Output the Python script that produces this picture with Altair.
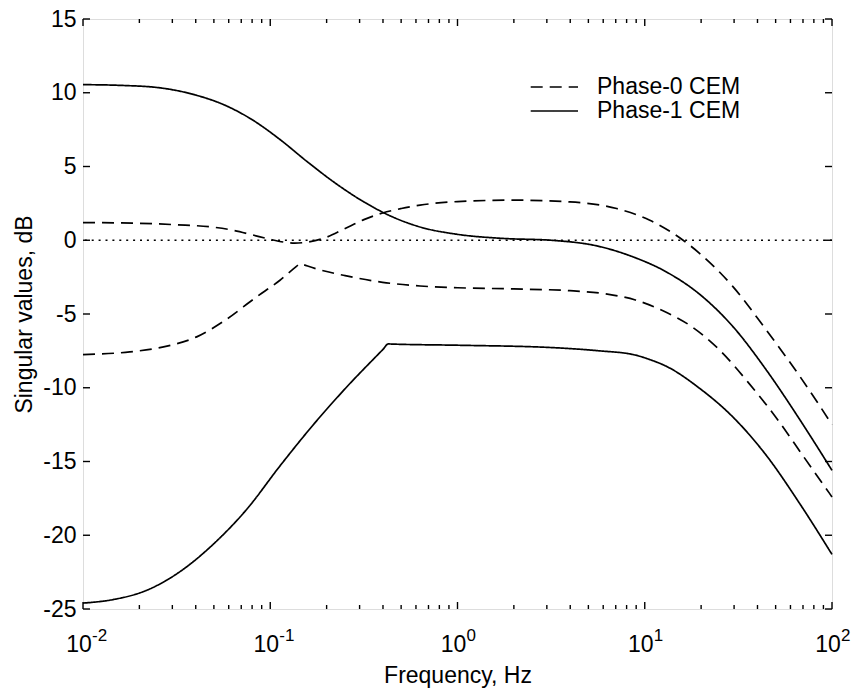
import altair as alt
import pandas as pd

FONT = "Liberation Sans"
W, H = 749, 590

# ---- data (frequency in Hz, singular value in dB) ----
p0_upper_f = [0.01, 0.01995, 0.03162, 0.05012, 0.0631, 0.07943, 0.1, 0.1175, 0.1349, 0.1585, 0.1995,
              0.2512, 0.3162, 0.3981, 0.5012, 0.631, 1.0, 1.995, 3.981, 7.079, 10.64, 16.03, 19.68,
              29.65, 44.67, 67.61, 100]
p0_upper_db = [1.2, 1.15, 1.05, 0.88, 0.68, 0.38, 0.06, -0.12, -0.2, -0.12, 0.2,
               0.8, 1.4, 1.85, 2.15, 2.38, 2.62, 2.72, 2.6, 2.15, 1.36, 0.0, -0.9,
               -3.16, -6.1, -9.26, -12.5]

p0_lower_f = [0.01, 0.01778, 0.02692, 0.04046, 0.05623, 0.08453, 0.1127, 0.138, 0.1442, 0.150, 0.1778,
              0.2512, 0.3981, 0.631, 1.0, 1.995, 3.981, 6.31, 8.913, 12.59, 17.78, 25.12, 35.48,
              50.12, 70.79, 100]
p0_lower_db = [-7.75, -7.57, -7.23, -6.55, -5.5, -3.84, -2.71, -1.77, -1.58, -1.65, -1.95,
               -2.4, -2.85, -3.1, -3.22, -3.3, -3.42, -3.65, -4.05, -4.8, -5.85, -7.45, -9.6,
               -12.0, -14.7, -17.4]

p1_upper_f = [0.01, 0.01585, 0.02512, 0.03981, 0.05623, 0.07943, 0.1122, 0.1585, 0.2239, 0.3162,
              0.4467, 0.631, 1.0, 1.778, 3.162, 5.623, 8.67, 13.06, 19.68, 29.65, 44.67, 67.61, 100]
p1_upper_db = [10.55, 10.5, 10.35, 9.85, 9.2, 8.2, 6.85, 5.3, 3.85, 2.6,
               1.6, 0.9, 0.4, 0.12, 0.0, -0.4, -1.13, -2.15, -3.67, -5.87, -8.81, -12.2, -15.6]

p1_lower_f = [0.01, 0.0145, 0.0219, 0.0331, 0.0497, 0.0748, 0.1127, 0.170, 0.256, 0.40, 0.427, 0.45,
              1.03, 3.11, 5.75, 8.67, 10.7, 13.06, 19.68, 29.65, 44.67, 67.61, 100]
p1_lower_db = [-24.6, -24.36, -23.73, -22.45, -20.6, -18.25, -15.3, -12.5, -9.95, -7.4, -7.03, -7.04,
               -7.12, -7.27, -7.5, -7.75, -8.1, -8.55, -10.05, -12.0, -14.6, -17.9, -21.3]

series_names = ["Phase-0 CEM", "Phase-1 CEM"]
reference_level = [0]

# axis ticks
x_major = [0.01, 0.1, 1, 10, 100]
x_major_base = ["10", "10", "10", "10", "10"]
x_major_exp = ["-2", "-1", "0", "1", "2"]
minor_multipliers = [2, 3, 4, 5, 6, 7, 8, 9]
x_minor = [m * d for d in [0.01, 0.1, 1, 10] for m in minor_multipliers]
y_ticks = [-25, -20, -15, -10, -5, 0, 5, 10, 15]

# ---- tables ----
rows = []
for name, curve, fs, vs in [
    ("Phase-0 CEM", "p0u", p0_upper_f, p0_upper_db),
    ("Phase-0 CEM", "p0l", p0_lower_f, p0_lower_db),
    ("Phase-1 CEM", "p1u", p1_upper_f, p1_upper_db),
    ("Phase-1 CEM", "p1l", p1_lower_f, p1_lower_db),
]:
    for i, (f, v) in enumerate(zip(fs, vs)):
        rows.append({"f": f, "db": v, "series": name, "curve": curve, "order": i})
df = pd.DataFrame(rows)

xscale = alt.Scale(type="log", domain=[0.01, 100], nice=False)
yscale = alt.Scale(domain=[-25, 15], nice=False, zero=False)

x_axis = alt.Axis(labels=False, ticks=False, domain=False, grid=False,
                  title="Frequency, Hz", titleFont=FONT, titleFontSize=23,
                  titleFontWeight="normal", titleColor="black", titlePadding=55)
y_axis = alt.Axis(values=y_ticks, ticks=False, domain=False, grid=False,
                  labelFont=FONT, labelFontSize=23, labelColor="black", labelPadding=7,
                  labelFlush=False, labelOverlap=False, labelExpr="'' + datum.value",
                  title="Singular values, dB", titleFont=FONT, titleFontSize=23,
                  titleFontWeight="normal", titleColor="black", titlePadding=6)

X = lambda field: alt.X(field, type="quantitative", scale=xscale, axis=x_axis)
Y = lambda field: alt.Y(field, type="quantitative", scale=yscale, axis=y_axis)

lines = alt.Chart(df).mark_line(color="black", strokeWidth=1.7, interpolate="monotone").encode(
    x=X("f"),
    y=Y("db"),
    detail="curve:N",
    order="order:Q",
    strokeDash=alt.StrokeDash(
        "series:N",
        scale=alt.Scale(domain=series_names, range=[[12, 7], [1, 0]]),
        legend=alt.Legend(orient="none", legendX=472, legendY=56, title=None,
                          symbolType="M-3.3,0H1", symbolSize=484, symbolStrokeWidth=1.7,
                          symbolStrokeColor="black", symbolFillColor="transparent",
                          labelFont=FONT, labelFontSize=23,
                          labelColor="black", labelOffset=18, rowPadding=0, padding=0),
    ),
)

zero = alt.Chart(pd.DataFrame({"level": reference_level})).mark_rule(
    color="black", strokeWidth=1.6, strokeDash=[2, 4.9]).encode(y=Y("level"))

major_df = pd.DataFrame({"t": x_major, "base": x_major_base, "exp": x_major_exp})
minor_df = pd.DataFrame({"t": x_minor})
ytick_df = pd.DataFrame({"t": y_ticks})

tick_style = dict(color="black", strokeWidth=1.4)
xt_major_bot = alt.Chart(major_df).mark_rule(**tick_style).encode(
    x=X("t"), y=alt.value(H), y2=alt.value(H - 7))
xt_major_top = alt.Chart(major_df).mark_rule(**tick_style).encode(
    x=X("t"), y=alt.value(0), y2=alt.value(7))
xt_minor_bot = alt.Chart(minor_df).mark_rule(**tick_style).encode(
    x=X("t"), y=alt.value(H), y2=alt.value(H - 4))
xt_minor_top = alt.Chart(minor_df).mark_rule(**tick_style).encode(
    x=X("t"), y=alt.value(0), y2=alt.value(4))
yt_left = alt.Chart(ytick_df).mark_rule(**tick_style).encode(
    y=Y("t"), x=alt.value(0), x2=alt.value(7))
yt_right = alt.Chart(ytick_df).mark_rule(**tick_style).encode(
    y=Y("t"), x=alt.value(W), x2=alt.value(W - 7))

lab_base = alt.Chart(major_df).mark_text(
    font=FONT, fontSize=23, color="black", align="center", baseline="alphabetic", dx=-4).encode(
    x=X("t"), y=alt.value(H + 43), text="base:N")
lab_exp = alt.Chart(major_df).mark_text(
    font=FONT, fontSize=17, color="black", align="left", baseline="alphabetic", dx=9).encode(
    x=X("t"), y=alt.value(H + 32), text="exp:N")

chart = alt.layer(
    zero, lines, xt_major_bot, xt_major_top, xt_minor_bot, xt_minor_top,
    yt_left, yt_right, lab_base, lab_exp,
).properties(
    width=W, height=H,
    padding={"left": 83, "top": 19, "right": 30, "bottom": 79},
    autosize=alt.AutoSizeParams(type="none"),
).configure_view(
    stroke="black", strokeWidth=2
).configure(background="white")

chart.save("out.html", embed_options={"renderer": "svg", "actions": False})
